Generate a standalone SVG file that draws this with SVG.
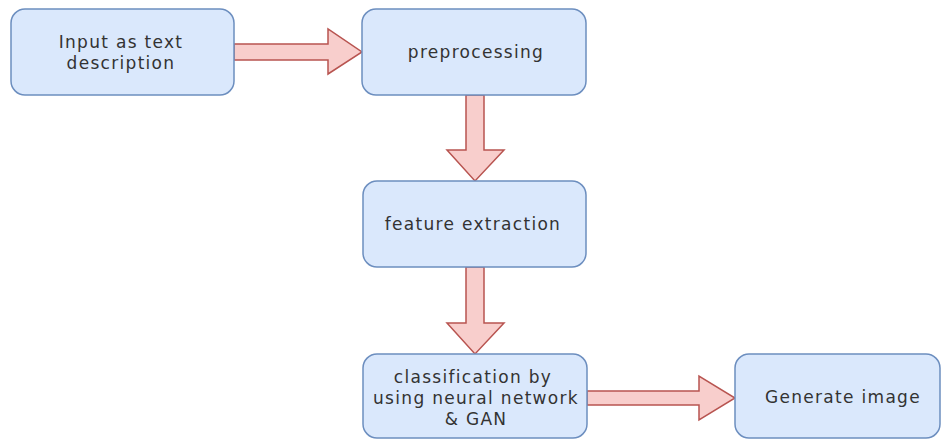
<svg xmlns="http://www.w3.org/2000/svg" width="944" height="440" viewBox="0 0 944 440">
<style>
.box{fill:#dae8fc;stroke:#6c8ebf;stroke-width:1.5}
.arr{fill:#f8cecc;stroke:#b85450;stroke-width:1.5;stroke-linejoin:miter}
text{font-family:"DejaVu Sans","Liberation Sans",Arial,sans-serif;font-size:17px;letter-spacing:1.3px;fill:#333333;text-anchor:middle}
</style>
<rect width="944" height="440" fill="#ffffff"/>
<g id="connectors">
<path class="arr" d="M234,44 L328,44 L328,29 L362,52 L328,74 L328,60 L234,60 Z"/>
<path class="arr" d="M466,95 L466,150 L447,150 L475,181 L504,150 L484,150 L484,95 Z"/>
<path class="arr" d="M466,267 L466,323 L447,323 L475,354 L504,323 L484,323 L484,267 Z"/>
<path class="arr" d="M587,391 L699,391 L699,376 L735,398 L699,420 L699,405 L587,405 Z"/>
</g>
<g id="input">
<rect class="box" x="11" y="9" width="223" height="86" rx="14"/>
<text x="121" y="48">Input as text</text>
<text x="121" y="69">description</text>
</g>
<g id="preprocessing">
<rect class="box" x="362" y="9" width="224" height="86" rx="14"/>
<text x="476" y="58">preprocessing</text>
</g>
<g id="feature">
<rect class="box" x="363" y="181" width="223" height="86" rx="14"/>
<text x="473" y="230">feature extraction</text>
</g>
<g id="classification">
<rect class="box" x="363" y="354" width="224" height="84" rx="14"/>
<text x="473" y="383">classification by</text>
<text x="476" y="404">using neural network</text>
<text x="476" y="425">&amp; GAN</text>
</g>
<g id="generate">
<rect class="box" x="735" y="354" width="205" height="84" rx="14"/>
<text x="843" y="403">Generate image</text>
</g>
</svg>
